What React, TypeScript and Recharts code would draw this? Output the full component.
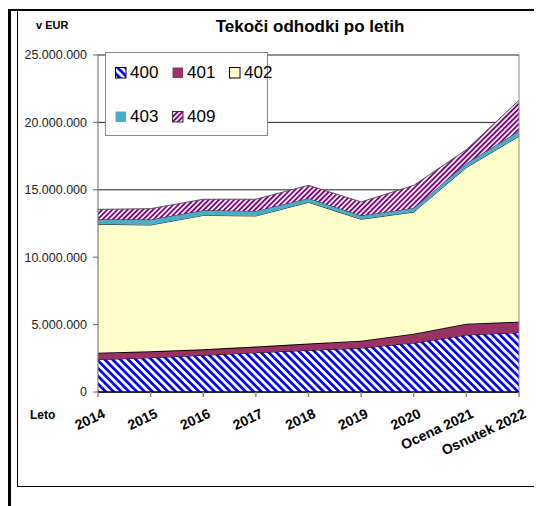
import React from "react";
import { Area, AreaChart, CartesianGrid, Legend, ReferenceLine, XAxis, YAxis } from "recharts";

const years = ["2014", "2015", "2016", "2017", "2018", "2019", "2020", "Ocena 2021", "Osnutek 2022"];
const k400 = [2400000, 2550000, 2720000, 2920000, 3090000, 3260000, 3640000, 4230000, 4410000];
const k401 = [520000, 470000, 450000, 450000, 500000, 550000, 690000, 840000, 810000];
const k402 = [9520000, 9370000, 9930000, 9690000, 10480000, 9000000, 9020000, 11580000, 13750000];
const k403 = [370000, 400000, 380000, 370000, 300000, 280000, 300000, 320000, 390000];
const k409 = [740000, 810000, 820000, 870000, 960000, 1010000, 1680000, 1010000, 2280000];
const yTicks = [0, 5000000, 10000000, 15000000, 20000000, 25000000];

const data = years.map((y, i) => ({
  leto: y,
  k400: k400[i],
  k401: k401[i],
  k402: k402[i],
  k403: k403[i],
  k409: k409[i],
}));

const FONT = "'Liberation Sans', Arial, sans-serif";

const fmt = (v: number) => String(v).replace(/\B(?=(\d{3})+(?!\d))/g, ".");

const legendItems = [
  { key: "400", fill: "url(#p400)", stroke: "#000" },
  { key: "401", fill: "#993366", stroke: "none" },
  { key: "402", fill: "#ffffcc", stroke: "#000" },
  { key: "403", fill: "#4bacc6", stroke: "none" },
  { key: "409", fill: "url(#p409)", stroke: "#333" },
];

function LegendBox() {
  const rows = [legendItems.slice(0, 3), legendItems.slice(3)];
  return (
    <div
      style={{
        width: 163,
        height: 84,
        border: "1px solid #888",
        background: "#fff",
        fontFamily: FONT,
        fontSize: 17,
        color: "#000",
        boxSizing: "border-box",
      }}
    >
      {rows.map((row, r) => (
        <div key={r} style={{ display: "flex", position: "absolute", left: 10, top: r === 0 ? 11 : 55 }}>
          {row.map((it) => (
            <div key={it.key} style={{ display: "flex", alignItems: "center", width: 57 }}>
              <svg width={12} height={12} style={{ marginRight: 3 }}>
                <rect x={0.5} y={0.5} width={10.5} height={10.5} fill={it.fill} stroke={it.stroke} />
              </svg>
              <span>{it.key}</span>
            </div>
          ))}
        </div>
      ))}
    </div>
  );
}

function XTick(props: any) {
  const { x, y, payload } = props;
  return (
    <g transform={`translate(${x + 8},${y + 18}) rotate(-25)`}>
      <text textAnchor="end" fontFamily={FONT} fontWeight="bold" fontSize={14} fill="#000">
        {payload.value}
      </text>
    </g>
  );
}

export default function App() {
  return (
    <div style={{ position: "relative", width: 542, height: 506, margin: "-8px 0 0 -8px", background: "#fff" }}>
      <div style={{ position: "absolute", left: 8, top: 9, width: 534, height: 2, background: "#000" }} />
      <div style={{ position: "absolute", left: 8, top: 9, width: 3, height: 497, background: "#000" }} />
      <div
        style={{
          position: "absolute",
          left: 17,
          top: 10,
          width: 540,
          height: 476,
          borderLeft: "1px solid #000",
          borderBottom: "1px solid #000",
        }}
      />
      <div
        style={{
          position: "absolute",
          left: 36,
          top: 19,
          fontFamily: FONT,
          fontWeight: "bold",
          fontSize: 11,
        }}
      >
        v EUR
      </div>
      <div
        style={{
          position: "absolute",
          left: 180,
          width: 260,
          top: 17,
          textAlign: "center",
          fontFamily: FONT,
          fontWeight: "bold",
          fontSize: 17,
        }}
      >
        Tekoči odhodki po letih
      </div>
      <div
        style={{
          position: "absolute",
          left: 30,
          top: 408,
          fontFamily: FONT,
          fontWeight: "bold",
          fontSize: 12,
        }}
      >
        Leto
      </div>
      <div style={{ position: "absolute", left: 0, top: 0 }}>
        <AreaChart width={542} height={506} data={data} margin={{ top: 55, right: 23, bottom: 84, left: 18 }}>
          <defs>
            <pattern id="p400" patternUnits="userSpaceOnUse" width={5.5} height={5.5} patternTransform="rotate(-45)">
              <rect width={5.5} height={5.5} fill="#fff" />
              <rect width={2.7} height={5.5} fill="#0000ff" />
            </pattern>
            <pattern id="p409" patternUnits="userSpaceOnUse" width={3.6} height={3.6} patternTransform="rotate(45)">
              <rect width={3.6} height={3.6} fill="#fff" />
              <rect width={1.9} height={3.6} fill="#800080" />
            </pattern>
          </defs>
          <CartesianGrid vertical={false} stroke="#222" strokeWidth={1} />
          <XAxis
            dataKey="leto"
            interval={0}
            padding={{ left: 0, right: 0 }}
            stroke="#000"
            strokeWidth={1.5}
            tickLine={{ stroke: "#888" }}
            tickSize={5}
            tick={<XTick />}
          />
          <YAxis
            width={80}
            domain={[0, 25000000]}
            ticks={yTicks}
            interval={0}
            tickFormatter={fmt}
            stroke="#666"
            tickSize={5}
            tickMargin={6}
            tick={{ fontFamily: FONT, fontSize: 12.5, fill: "#222" }}
          />
          <Area type="linear" dataKey="k400" stackId="s" fill="url(#p400)" fillOpacity={1} stroke="#000" strokeWidth={1} isAnimationActive={false} dot={false} activeDot={false} />
          <Area type="linear" dataKey="k401" stackId="s" fill="#993366" fillOpacity={1} stroke="#000" strokeWidth={1.8} isAnimationActive={false} dot={false} activeDot={false} />
          <Area type="linear" dataKey="k402" stackId="s" fill="#ffffcc" fillOpacity={1} stroke="#222" strokeWidth={1} isAnimationActive={false} dot={false} activeDot={false} />
          <Area type="linear" dataKey="k403" stackId="s" fill="#4bacc6" fillOpacity={1} stroke="#333" strokeWidth={1} isAnimationActive={false} dot={false} activeDot={false} />
          <Area type="linear" dataKey="k409" stackId="s" fill="url(#p409)" fillOpacity={1} stroke="#555" strokeWidth={1} isAnimationActive={false} dot={false} activeDot={false} />
          <ReferenceLine x="Osnutek 2022" stroke="#888" strokeWidth={1} />
          <Legend
            layout="vertical"
            align="center"
            verticalAlign="middle"
            content={<LegendBox />}
            wrapperStyle={{ left: 105, top: 52, width: 163, height: 84 }}
          />
        </AreaChart>
      </div>
    </div>
  );
}
